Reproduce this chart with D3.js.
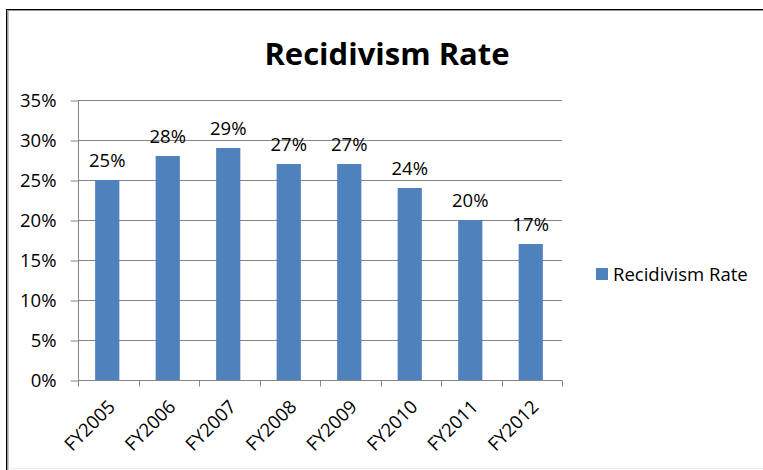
<!DOCTYPE html>
<html>
<head>
<meta charset="utf-8">
<script src="https://cdn.jsdelivr.net/npm/d3@7"></script>
<style>
  html, body { margin: 0; padding: 0; background: #fff; }
  svg { display: block; }
  text { font-family: "Open Sans", Lato, sans-serif; fill: #000; }
</style>
</head>
<body>
<svg id="chart" width="763" height="470"></svg>
<script>
// Recidivism rate by fiscal year
const categories = ["FY2005", "FY2006", "FY2007", "FY2008", "FY2009", "FY2010", "FY2011", "FY2012"];
const rates = [0.25, 0.28, 0.29, 0.27, 0.27, 0.24, 0.20, 0.17];
const yTicks = [0, 0.05, 0.10, 0.15, 0.20, 0.25, 0.30, 0.35];
const seriesName = "Recidivism Rate";
const chartTitle = "Recidivism Rate";

const svg = d3.select("#chart");
const W = 763, H = 470;
const plot = { left: 78, right: 562, top: 100, bottom: 380 };
const barColor = "#4F81BD";
const gridColor = "#868686";
const fontFamily = "'Open Sans', Lato, sans-serif";
const fs = 18.5;

// Frame around the chart object
svg.append("rect").attr("x", 0).attr("y", 0).attr("width", W).attr("height", H).attr("fill", "#fff");
svg.append("line").attr("x1", 6).attr("x2", W).attr("y1", 9.5).attr("y2", 9.5).attr("stroke", "#000");
svg.append("line").attr("x1", 7).attr("x2", W).attr("y1", 10.5).attr("y2", 10.5).attr("stroke", "#9a9a9a").attr("stroke-width", 1.2);
svg.append("line").attr("x1", 6.5).attr("x2", 6.5).attr("y1", 9).attr("y2", H).attr("stroke", "#000");
svg.append("line").attr("x1", 7.8).attr("x2", 7.8).attr("y1", 10).attr("y2", H).attr("stroke", "#9a9a9a").attr("stroke-width", 1.6);
svg.append("line").attr("x1", 8).attr("x2", W).attr("y1", 468.5).attr("y2", 468.5).attr("stroke", "#ececec");

const x = d3.scaleBand().domain(categories).range([plot.left, plot.right]).padding(0);
const y = d3.scaleLinear().domain([0, 0.35]).range([plot.bottom, plot.top]);
const barW = x.bandwidth() * 0.4;

// Horizontal gridlines
svg.append("g").selectAll("line").data(yTicks.filter(t => t > 0)).join("line")
  .attr("x1", plot.left).attr("x2", plot.right)
  .attr("y1", d => Math.round(y(d)) + 0.5).attr("y2", d => Math.round(y(d)) + 0.5)
  .attr("stroke", gridColor).attr("stroke-width", 1);

// Y axis
const yAxis = d3.axisLeft(y).tickValues(yTicks).tickFormat(d3.format(".0%")).tickSize(8).tickPadding(14);
const gy = svg.append("g").attr("transform", `translate(${plot.left + 0.5},0.5)`).call(yAxis);
gy.select(".domain").attr("stroke", gridColor).attr("d", `M0,${plot.top}V${plot.bottom}`);
gy.selectAll(".tick line").attr("stroke", gridColor);
gy.selectAll(".tick text").attr("font-size", fs).attr("font-family", fontFamily).attr("fill", "#000");

// Bars
svg.append("g").selectAll("rect").data(categories).join("rect")
  .attr("x", (d) => x(d) + x.bandwidth() / 2 - barW / 2 - 1)
  .attr("width", barW)
  .attr("y", (d, i) => y(rates[i]))
  .attr("height", (d, i) => plot.bottom - y(rates[i]))
  .attr("fill", barColor);

// X axis with ticks at category boundaries
const gx = svg.append("g").attr("transform", `translate(0.5,${plot.bottom + 0.5})`);
gx.append("line").attr("x1", plot.left).attr("x2", plot.right).attr("stroke", gridColor);
const bounds = categories.map(c => x(c)).concat([plot.right]);
gx.selectAll("line.tk").data(bounds).join("line").attr("class", "tk")
  .attr("x1", d => Math.round(d)).attr("x2", d => Math.round(d)).attr("y1", 0).attr("y2", 6)
  .attr("stroke", gridColor);

// Rotated category labels
svg.append("g").selectAll("text").data(categories).join("text")
  .attr("transform", d => `translate(${x(d) + x.bandwidth() / 2 + 8},${plot.bottom + 28}) rotate(-45)`)
  .attr("text-anchor", "end")
  .attr("font-size", fs)
  .text(d => d);

// Value labels above bars
svg.append("g").selectAll("text").data(categories).join("text")
  .attr("x", d => x(d) + x.bandwidth() / 2 - 1)
  .attr("y", (d, i) => y(rates[i]) - 13)
  .attr("text-anchor", "middle")
  .attr("font-size", fs)
  .text((d, i) => d3.format(".0%")(rates[i]));

// Title
svg.append("text").attr("x", 387).attr("y", 65).attr("text-anchor", "middle")
  .attr("font-size", 31).attr("font-weight", "bold").text(chartTitle);

// Legend
const lg = svg.append("g").attr("transform", "translate(596,268)");
lg.append("rect").attr("width", 12).attr("height", 12).attr("fill", barColor);
lg.append("text").attr("x", 17).attr("y", 12.5).attr("font-size", fs).text(seriesName);
</script>
</body>
</html>
